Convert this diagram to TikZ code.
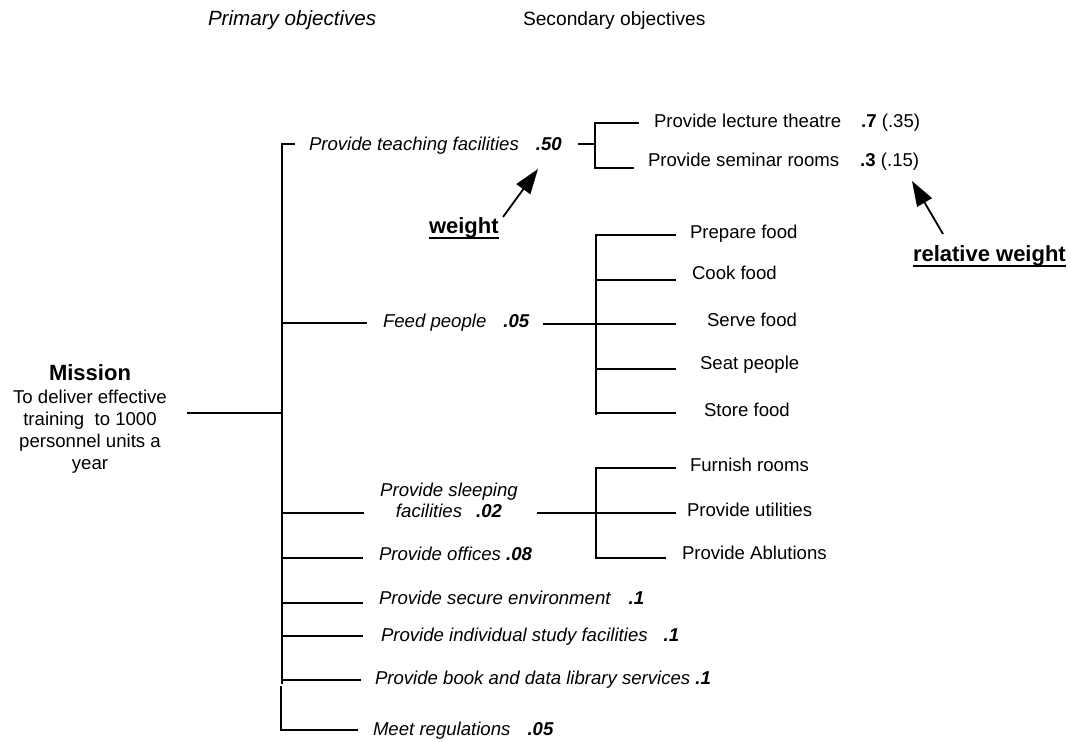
\documentclass[tikz,border=0pt]{standalone}
\usepackage{fontspec}
\setmainfont{Liberation Sans}
\usetikzlibrary{arrows.meta}
\newcommand{\ulbold}[1]{\setbox0\hbox{#1}\rlap{\rule[-2.4pt]{\wd0}{1pt}}\box0}
\begin{document}
\begin{tikzpicture}[x=0.5pt,y=-0.5pt,
  every node/.style={inner sep=0pt,outer sep=0pt,font=\fontsize{9.3}{11}\selectfont},
  tree/.style={line width=1pt},
  lbl/.style={anchor=base west},
  itl/.style={font=\fontsize{9.3}{11}\selectfont\itshape},
  big/.style={font=\fontsize{11}{13}\selectfont\bfseries},
  pointer/.style={line width=0.9pt,-{Triangle[length=12.5pt,width=8.5pt]}}]
\useasboundingbox (0,0) rectangle (1071,742);

% headers
\node[lbl,font=\fontsize{10.3}{12}\selectfont\itshape] (hprim) at (208,26) {Primary objectives};
\node[lbl,font=\fontsize{9.6}{12}\selectfont] (hsec) at (523,26) {Secondary objectives};

% mission
\node[anchor=base,big] (mission) at (90,381) {Mission};
\node[anchor=base,align=center] (mtext) at (90,470) {To deliver effective\\training~ to 1000\\personnel units a\\year};

% primary objectives
\node[lbl,itl] (teach) at (309,151) {Provide teaching facilities\hspace{8.5pt}\textbf{.50}};
\node[lbl,itl] (feed) at (383,328) {Feed people\hspace{8.5pt}\textbf{.05}};
\node[anchor=base,align=center,font=\fontsize{9.3}{10.5}\selectfont\itshape] (sleep) at (449,518) {Provide sleeping\\facilities\hspace{7pt}\textbf{.02}};
\node[lbl,itl] (office) at (379,561) {Provide offices \textbf{.08}};
\node[lbl,itl] (secure) at (379,605) {Provide secure environment\hspace{9pt}\textbf{.1}};
\node[lbl,itl] (indiv) at (381,641) {Provide individual study facilities\hspace{8pt}\textbf{.1}};
\node[lbl,itl] (book) at (375,684) {Provide book and data library services \textbf{.1}};
\node[lbl,itl] (meet) at (373,735) {Meet regulations\hspace{8.5pt}\textbf{.05}};

% secondary objectives
\node[lbl] (lect) at (654,128) {Provide lecture theatre\hspace{10pt}\textbf{.7} (.35)};
\node[lbl] (sem) at (648,167) {Provide seminar rooms\hspace{10.5pt}\textbf{.3} (.15)};
\node[lbl] (prep) at (690,239) {Prepare food};
\node[lbl] (cook) at (692,280) {Cook food};
\node[lbl] (serve) at (707,327) {Serve food};
\node[lbl] (seat) at (700,370) {Seat people};
\node[lbl] (store) at (704,417) {Store food};
\node[lbl] (furn) at (690,472) {Furnish rooms};
\node[lbl] (util) at (687,517) {Provide utilities};
\node[lbl] (ablu) at (682,560) {Provide Ablutions};

% annotations
\node[lbl,big] (wlbl) at (429,234) {\ulbold{weight}};
\node[lbl,big] (rlbl) at (913,262) {\ulbold{relative weight}};

% junction coordinates
\coordinate (m1) at (187,413); \coordinate (m2) at (282,413);
\coordinate (ttop) at (282,144); \coordinate (tbreak) at (282,684);
\coordinate (tb2) at (281,686); \coordinate (tbot) at (281,730);
\coordinate (ttick) at (295,144);
\coordinate (tf) at (282,323); \coordinate (tfe) at (367,323);
\coordinate (ts) at (282,513); \coordinate (tse) at (364,513);
\coordinate (to) at (282,558); \coordinate (toe) at (363,558);
\coordinate (tsec) at (282,603); \coordinate (tsece) at (363,603);
\coordinate (ti) at (282,636); \coordinate (tie) at (363,636);
\coordinate (tbk) at (282,680); \coordinate (tbke) at (361,680);
\coordinate (tme) at (358,730);
% teaching subtree
\coordinate (a0) at (578,144); \coordinate (a1) at (595,144);
\coordinate (a2) at (595,123); \coordinate (a3) at (595,168);
\coordinate (a4) at (639,123); \coordinate (a5) at (634,168);
% feed subtree
\coordinate (f0) at (543,324); \coordinate (f1) at (596,324);
\coordinate (fv1) at (596,235); \coordinate (fv2) at (596,415);
\coordinate (fp) at (676,235); \coordinate (fc0) at (596,280); \coordinate (fc) at (676,280);
\coordinate (fs) at (676,324); \coordinate (fst0) at (596,369); \coordinate (fst) at (676,369);
\coordinate (fso0) at (596,413); \coordinate (fso) at (676,413);
% sleeping subtree
\coordinate (s0) at (537,513); \coordinate (s1) at (676,513);
\coordinate (sv1) at (596,468); \coordinate (sv2) at (596,558);
\coordinate (sf) at (676,468); \coordinate (sa) at (666,558);
% arrows
\coordinate (wtail) at (503,217); \coordinate (wtip) at (538,169);
\coordinate (rtail) at (943,234); \coordinate (rtip) at (912,181);

% tree lines
\draw[tree] (m1) -- (m2);
\draw[tree] (ttick) -- (ttop) -- (tbreak);
\draw[tree] (tb2) -- (tbot) -- (tme);
\draw[tree] (tf) -- (tfe);
\draw[tree] (ts) -- (tse);
\draw[tree] (to) -- (toe);
\draw[tree] (tsec) -- (tsece);
\draw[tree] (ti) -- (tie);
\draw[tree] (tbk) -- (tbke);

\draw[tree] (a0) -- (a1);
\draw[tree] (a4) -- (a2) -- (a3) -- (a5);

\draw[tree] (f0) -- (f1);
\draw[tree] (fp) -- (fv1) -- (fv2);
\draw[tree] (fc0) -- (fc);
\draw[tree] (f1) -- (fs);
\draw[tree] (fst0) -- (fst);
\draw[tree] (fso0) -- (fso);

\draw[tree] (s0) -- (s1);
\draw[tree] (sf) -- (sv1) -- (sv2) -- (sa);

\draw[pointer] (wtail) -- (wtip);
\draw[pointer] (rtail) -- (rtip);
\end{tikzpicture}
\end{document}
